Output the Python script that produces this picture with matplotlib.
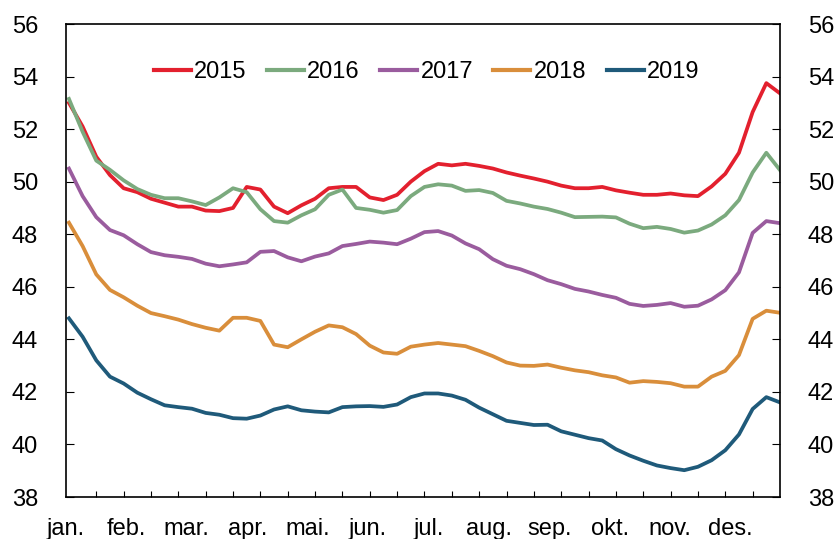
import numpy as np
import matplotlib
matplotlib.use("Agg")
import matplotlib.pyplot as plt

plt.rcParams['font.family'] = ['Liberation Sans', 'DejaVu Sans']

# weekly observations (day of year = week * 7)
weeks = list(range(53))
months = ["jan.", "feb.", "mar.", "apr.", "mai.", "jun.", "jul.", "aug.", "sep.", "okt.", "nov.", "des."]
y_ticks = [38, 40, 42, 44, 46, 48, 50, 52, 54, 56]

s2015 = [53.0, 52.1, 50.95, 50.25, 49.75, 49.6, 49.35, 49.2, 49.05, 49.05, 48.9, 48.88, 49.0,
         49.8, 49.7, 49.05, 48.8, 49.1, 49.35, 49.75, 49.8, 49.8, 49.4, 49.3, 49.5, 50.0,
         50.4, 50.68, 50.62, 50.68, 50.6, 50.5, 50.35, 50.23, 50.12, 50.0, 49.85, 49.75, 49.75,
         49.8, 49.67, 49.58, 49.5, 49.5, 49.55, 49.48, 49.45, 49.82, 50.3, 51.1, 52.65, 53.75, 53.36]
s2016 = [53.15, 51.9, 50.8, 50.45, 50.05, 49.72, 49.5, 49.37, 49.37, 49.25, 49.11, 49.4, 49.75,
         49.6, 48.95, 48.5, 48.44, 48.72, 48.95, 49.5, 49.7, 49.0, 48.93, 48.82, 48.92, 49.45,
         49.8, 49.9, 49.85, 49.65, 49.68, 49.57, 49.27, 49.17, 49.05, 48.96, 48.82, 48.65, 48.66,
         48.67, 48.64, 48.4, 48.23, 48.28, 48.2, 48.06, 48.14, 48.37, 48.72, 49.3, 50.35, 51.1, 50.44]
s2017 = [50.5, 49.45, 48.65, 48.16, 47.96, 47.62, 47.32, 47.2, 47.14, 47.06, 46.88, 46.78, 46.85,
         46.93, 47.33, 47.36, 47.12, 46.97, 47.15, 47.27, 47.55, 47.63, 47.72, 47.68, 47.62, 47.83,
         48.08, 48.12, 47.95, 47.65, 47.43, 47.05, 46.8, 46.67, 46.48, 46.25, 46.1, 45.92, 45.82,
         45.69, 45.58, 45.35, 45.27, 45.31, 45.38, 45.24, 45.28, 45.52, 45.87, 46.55, 48.05, 48.5, 48.42]
s2018 = [48.44, 47.55, 46.47, 45.88, 45.6, 45.28, 45.0, 44.88, 44.75, 44.58, 44.44, 44.33, 44.82,
         44.82, 44.7, 43.8, 43.7, 44.0, 44.29, 44.53, 44.46, 44.2, 43.76, 43.5, 43.45, 43.72,
         43.8, 43.86, 43.8, 43.74, 43.56, 43.36, 43.12, 43.0, 42.99, 43.04, 42.92, 42.82, 42.75,
         42.63, 42.55, 42.35, 42.41, 42.38, 42.33, 42.2, 42.2, 42.58, 42.8, 43.4, 44.78, 45.09, 45.01]
s2019 = [44.8, 44.1, 43.2, 42.58, 42.32, 41.97, 41.72, 41.49, 41.42, 41.36, 41.2, 41.13, 41.0,
         40.98, 41.1, 41.33, 41.45, 41.3, 41.25, 41.22, 41.42, 41.45, 41.46, 41.43, 41.52, 41.8,
         41.94, 41.94, 41.86, 41.7, 41.4, 41.15, 40.9, 40.82, 40.74, 40.75, 40.5, 40.37, 40.24,
         40.15, 39.82, 39.58, 39.38, 39.2, 39.1, 39.02, 39.15, 39.4, 39.78, 40.38, 41.35, 41.8, 41.6]

series = [("2015", s2015, "#E3202E"), ("2016", s2016, "#7BAA7E"), ("2017", s2017, "#9A5C9E"),
          ("2018", s2018, "#D98E3B"), ("2019", s2019, "#1F5A7A")]

fig = plt.figure(figsize=(8.39, 5.39), dpi=100)
ax = fig.add_axes([66/839, 1-497/539, (780-66)/839, (497-24)/539])

days = np.array(weeks) * 7
for name, vals, col in series:
    ax.plot(days, vals, color=col, lw=2.7, label=name, solid_joinstyle='round')

ax.set_xlim(0, 364)
ax.set_ylim(38, 56)
ax.set_yticks(y_ticks)
ax.tick_params(axis='y', which='major', direction='in', length=6, width=0.8,
               labelsize=17, pad=20, left=True, right=True, labelleft=True, labelright=True)
ax.set_xticks(np.arange(12) * 30.92 - 1.5)
ax.set_xticklabels(months)
ax.set_xticks(np.arange(14, 351, 14), minor=True)
ax.tick_params(axis='x', which='major', length=0, labelsize=17, pad=15)
ax.tick_params(axis='x', which='minor', direction='in', length=4, width=0.8)
for sp in ax.spines.values():
    sp.set_linewidth(1.2)

leg = ax.legend(loc='center', bbox_to_anchor=(0.505, 0.8985), ncol=5, frameon=False,
                fontsize=17, handlelength=1.57, handletextpad=0.15, columnspacing=0.85)
for line in leg.get_lines():
    line.set_linewidth(3)

fig.savefig("out.png", dpi=100)
